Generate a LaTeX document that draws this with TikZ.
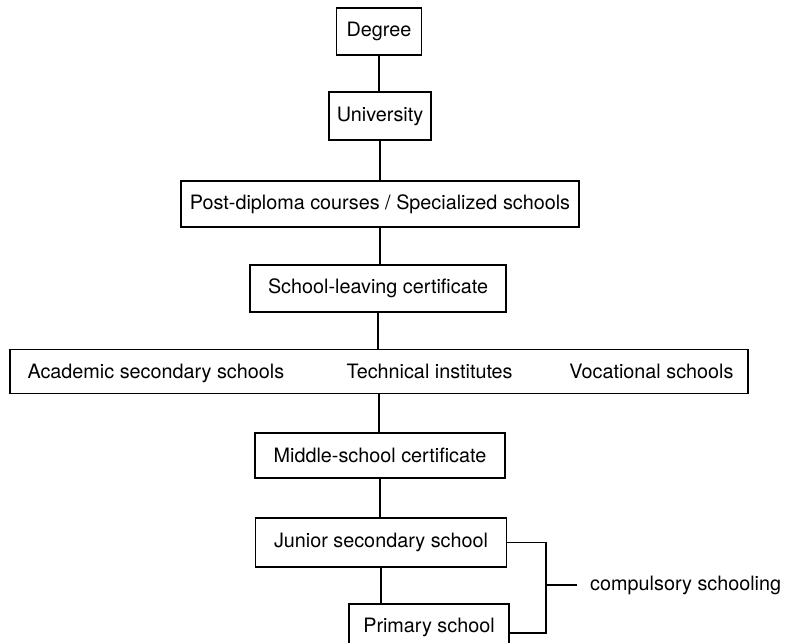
\documentclass[tikz,border=0pt]{standalone}
\usepackage{fontspec}
\setmainfont{TeX Gyre Heros}
\begin{document}
\begin{tikzpicture}[x=1pt,y=-1pt,
  every node/.style={font=\fontsize{19.8}{23}\selectfont},
  box/.style={draw, line width=1.7pt, inner sep=0pt, align=center},
  conn/.style={line width=1.7pt}]
\useasboundingbox (0,0) rectangle (797,642);
\clip (0,0) rectangle (797,642);
\fill[white] (0,0) rectangle (797,642);
\node[box, minimum width=85, minimum height=47] (deg) at (379,31.5) {Degree};
\node[box, minimum width=102, minimum height=48] (uni) at (380,116) {University};
\node[box, minimum width=398, minimum height=46] (post) at (380,204) {Post-diploma courses / Specialized schools};
\node[box, minimum width=256, minimum height=47] (sch) at (378,288.5) {School-leaving certificate};
\node[box, minimum width=738, minimum height=44] (wide) at (379,371.5) {};
\node[anchor=west] (acad) at (24,373) {Academic secondary schools};
\node[anchor=west] (tech) at (343,371) {Technical institutes};
\node[anchor=east] (voc) at (737,371) {Vocational schools};
\node[box, minimum width=250, minimum height=45] (mid) at (380,455.5) {Middle-school certificate};
\node[box, minimum width=251, minimum height=49] (jun) at (381,542.5) {Junior secondary school};
\node[box, minimum width=160, minimum height=46] (pri) at (429,627) {Primary school};
\node[anchor=west, inner sep=0pt] (comp) at (590,585) {compulsory schooling};
\coordinate (brtop) at (546,542.5);
\coordinate (brbot) at (546,633);
\coordinate (brmid) at (546,585);
\coordinate (stub) at (577,585);
\draw[conn] (deg.south) -- (deg.south |- uni.north);
\draw[conn] (uni.south) -- (uni.south |- post.north);
\draw[conn] (post.south) -- (post.south |- sch.north);
\draw[conn] (sch.south) -- (sch.south |- wide.north);
\draw[conn] (wide.south) -- (wide.south |- mid.north);
\draw[conn] (mid.south) -- (mid.south |- jun.north);
\draw[conn] (jun.south) -- (jun.south |- pri.north);
\draw[conn] (jun.east) -- (brtop) -- (brbot) -- (brbot -| pri.east);
\draw[conn] (brmid) -- (stub);
\end{tikzpicture}
\end{document}
